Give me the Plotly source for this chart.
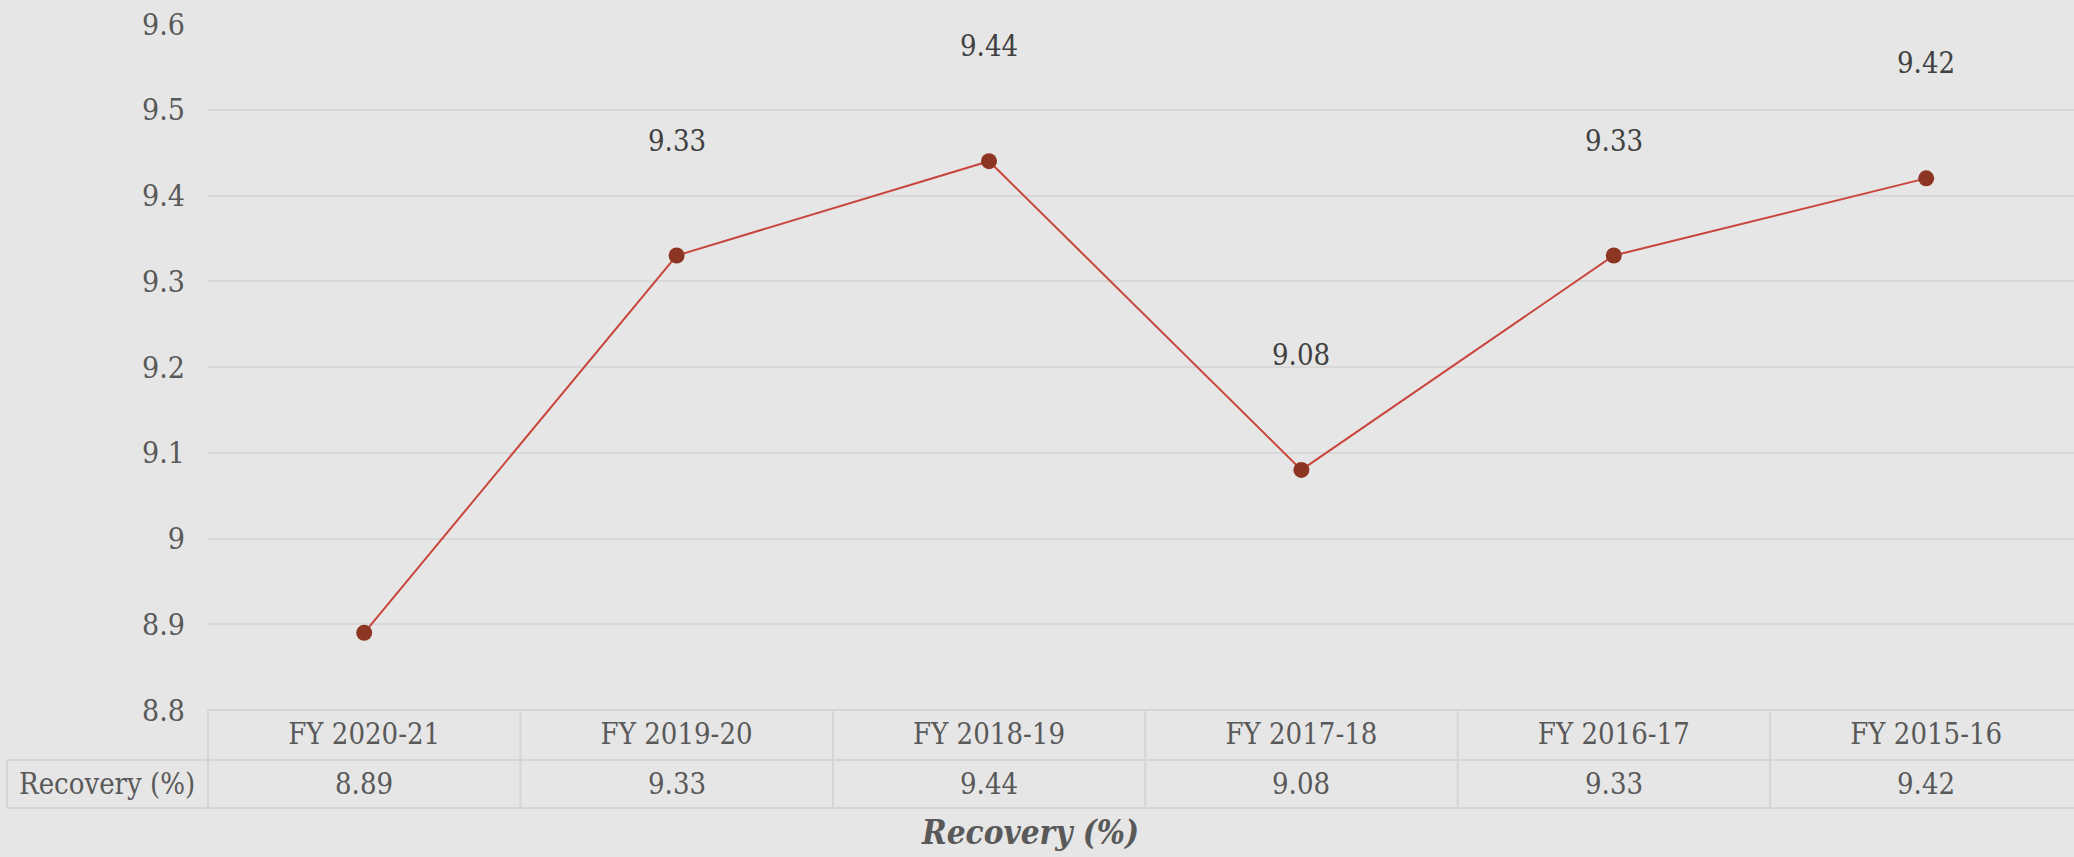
import plotly.graph_objects as go

categories = ["FY 2020-21", "FY 2019-20", "FY 2018-19", "FY 2017-18", "FY 2016-17", "FY 2015-16"]
recovery = [8.89, 9.33, 9.44, 9.08, 9.33, 9.42]
row_label = "Recovery (%)"
chart_title = "Recovery (%)"
y_ticks = [8.8, 8.9, 9.0, 9.1, 9.2, 9.3, 9.4, 9.5, 9.6]
y_ticktext = ["8.8", "8.9", "9", "9.1", "9.2", "9.3", "9.4", "9.5", "9.6"]

FONT = "DejaVu Serif Condensed, DejaVu Serif, Liberation Serif, serif"
TXT = "#595959"
LINE = "#d5d5d5"
BG = "#e6e6e6"

W, H = 2074, 857
ML, MR, MT, MB = 208, 0, 24, 147
plot_h = H - MT - MB
plot_w = W - ML - MR
col_w = 312.4
x_hi = -0.5 + plot_w / col_w


def py(px):
    # convert pixel y in figure to paper coordinate
    return (H - MB - px) / plot_h


def pxx(px):
    return (px - ML) / plot_w


fig = go.Figure()
fig.add_trace(go.Scatter(
    x=list(range(len(categories))), y=recovery, mode="lines+markers",
    line=dict(color="#c9463d", width=2),
    marker=dict(color="#8c3523", size=16),
    hoverinfo="skip", showlegend=False, cliponaxis=False,
))

annotations = []
# data labels (first point has none in the reference)
for i, v in enumerate(recovery):
    if i == 0:
        continue
    annotations.append(dict(x=i, y=v, xref="x", yref="y", text=f"{v:.2f}", showarrow=False,
                            yshift=115, font=dict(family=FONT, size=29, color="#404040")))
# value row of the table
for i, v in enumerate(recovery):
    annotations.append(dict(x=i, y=py(784), xref="x", yref="paper", text=f"{v:.2f}", showarrow=False,
                            xanchor="center", yanchor="middle", font=dict(family=FONT, size=29, color=TXT)))
annotations.append(dict(x=pxx(107), y=py(784), xref="paper", yref="paper", text=row_label, showarrow=False,
                        xanchor="center", yanchor="middle", font=dict(family=FONT, size=29, color=TXT)))
annotations.append(dict(x=pxx(1030), y=py(832), xref="paper", yref="paper", text=f"<b><i>{chart_title}</i></b>",
                        showarrow=False, xanchor="center", yanchor="middle",
                        font=dict(family=FONT, size=33, color=TXT)))

shapes = []
lw = 2
# horizontal table lines
shapes.append(dict(type="line", xref="paper", yref="paper", x0=0, x1=1.01, y0=0, y1=0, line=dict(color=LINE, width=lw)))
for yy in (760, 808):
    shapes.append(dict(type="line", xref="paper", yref="paper", x0=pxx(7), x1=1.01, y0=py(yy), y1=py(yy),
                       line=dict(color=LINE, width=lw)))
# vertical table lines
shapes.append(dict(type="line", xref="paper", yref="paper", x0=0, x1=0, y0=0, y1=py(808), line=dict(color=LINE, width=lw)))
shapes.append(dict(type="line", xref="paper", yref="paper", x0=pxx(7), x1=pxx(7), y0=py(760), y1=py(808),
                   line=dict(color=LINE, width=lw)))
for i in range(len(categories) - 1):
    shapes.append(dict(type="line", xref="x", yref="paper", x0=i + 0.5, x1=i + 0.5, y0=0, y1=py(808),
                       line=dict(color=LINE, width=lw)))

fig.update_layout(
    width=W, height=H,
    margin=dict(l=ML, r=MR, t=MT, b=MB),
    paper_bgcolor=BG, plot_bgcolor=BG,
    annotations=annotations, shapes=shapes,
    xaxis=dict(range=[-0.5, x_hi], tickmode="array", tickvals=list(range(len(categories))),
               ticktext=categories, showgrid=False, zeroline=False, showline=False, ticks="",
               tickfont=dict(family=FONT, size=29, color=TXT), ticklabelstandoff=4),
    yaxis=dict(range=[8.8, 9.6], tickmode="array", tickvals=y_ticks, ticktext=y_ticktext,
               showgrid=True, gridcolor="#d8d8d8", gridwidth=2, zeroline=False, showline=False, ticks="",
               tickfont=dict(family=FONT, size=30, color=TXT), ticklabelstandoff=22),
)

fig.write_html("out.html", config={"displayModeBar": False},
               post_script="document.body.style.margin='0';document.body.style.overflow='hidden';")
